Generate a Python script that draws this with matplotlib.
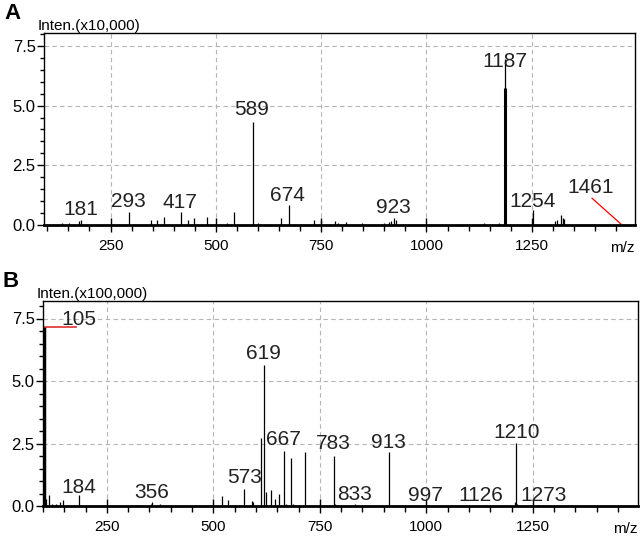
import matplotlib
matplotlib.use('Agg')
import matplotlib.pyplot as plt
from matplotlib.ticker import MultipleLocator, FormatStrFormatter

plt.rcParams['font.family'] = ['Liberation Sans', 'DejaVu Sans']

# Panel A spectrum (intensity x10,000)
mzA = [134, 152, 174, 181, 293, 347, 361, 376, 417, 434, 449, 479, 526, 543,
       589, 601, 654, 674, 733, 749, 782, 790, 810, 848, 898, 910, 916, 923,
       927, 1136, 1172, 1187, 1254, 1305, 1310, 1319, 1323, 1327]
intA = [0.1, 0.1, 0.15, 0.22, 0.56, 0.2, 0.2, 0.33, 0.53, 0.22, 0.28, 0.33, 0.1, 0.56,
        4.32, 0.08, 0.3, 0.85, 0.2, 0.2, 0.15, 0.08, 0.12, 0.1, 0.1, 0.12, 0.15, 0.28,
        0.2, 0.1, 0.1, 6.95, 0.61, 0.15, 0.2, 0.43, 0.3, 0.25]
baseA_mz = 1186
baseA_int = 5.75
labA = ['181', '293', '417', '589', '674', '923', '1187', '1254', '1461']
labA_x = [179, 293, 415, 585, 669, 922, 1186, 1253, 1389]
labA_y = [0.25, 0.58, 0.54, 4.42, 0.83, 0.33, 6.46, 0.6, 1.18]

# Panel B spectrum (intensity x100,000)
mzB = [105, 108, 115, 122, 130, 140, 147, 184, 320, 353, 356, 375, 520, 535, 573,
       590, 593, 613, 619, 624, 636, 644, 653, 667, 670, 683, 688, 714, 783, 786,
       833, 913, 997, 1140, 1208, 1210, 1213, 1262, 1273]
intB = [7.15, 0.3, 0.44, 0.1, 0.1, 0.15, 0.24, 0.44, 0.05, 0.1, 0.17, 0.08, 0.4, 0.24, 0.67,
        0.2, 0.15, 2.73, 5.65, 0.57, 0.63, 0.3, 0.5, 2.22, 0.1, 1.92, 0.1, 2.15, 2.02, 0.1,
        0.08, 2.17, 0.05, 0.05, 0.15, 2.53, 0.1, 0.06, 0.04]
labB = ['184', '356', '573', '619', '667', '783', '833', '913', '997', '1126', '1210', '1273']
labB_x = [185, 355, 573, 617, 664, 782, 831, 911, 998, 1129, 1213, 1276]
labB_y = [0.37, 0.17, 0.77, 5.73, 2.29, 2.13, 0.1, 2.17, 0.05, 0.05, 2.55, 0.05]

W, H = 643, 536
fig = plt.figure(figsize=(W / 100, H / 100), dpi=100)
axA = fig.add_axes([44 / W, 1 - 225 / H, (635 - 44) / W, 192 / H])
axB = fig.add_axes([43 / W, 1 - 506 / H, (638 - 43) / W, 205 / H])


def style(ax, xlim, ylim, ylab, axh):
    ax.set_xlim(*xlim)
    ax.set_ylim(*ylim)
    ax.xaxis.set_major_locator(MultipleLocator(250))
    ax.xaxis.set_minor_locator(MultipleLocator(50))
    ax.yaxis.set_major_locator(MultipleLocator(2.5))
    ax.yaxis.set_minor_locator(MultipleLocator(0.5))
    ax.yaxis.set_major_formatter(FormatStrFormatter('%.1f'))
    ax.grid(True, which='major', ls=(0, (4, 3)), color='#b5b5b5', lw=0.8)
    ax.set_axisbelow(True)
    ax.tick_params(axis='x', which='major', direction='inout', length=10, width=1,
                   labelsize=11, pad=5)
    ax.tick_params(axis='x', which='minor', direction='out', length=4, width=1)
    ax.tick_params(axis='y', which='major', direction='out', length=5, width=1,
                   labelsize=12, pad=1)
    ax.tick_params(axis='y', which='minor', direction='out', length=3, width=1)
    for s in ax.spines.values():
        s.set_linewidth(1)
    ax.spines['bottom'].set_linewidth(2)
    ax.text(-6 / 591, 1.0, ylab, transform=ax.transAxes, ha='left', va='bottom',
            fontsize=11)
    ax.text(1.0, -27 / axh, 'm/z', transform=ax.transAxes, ha='right', va='baseline',
            fontsize=11)


# Panel A
style(axA, (92, 1495), (0, 8.04), 'Inten.(x10,000)', 192)
axA.vlines(mzA, 0, intA, color='black', lw=0.9)
axA.vlines([baseA_mz], 0, [baseA_int], color='black', lw=2.2)
for t, x, y in zip(labA, labA_x, labA_y):
    axA.text(x, y, t, ha='center', va='bottom', fontsize=15, color='#222222')
axA.plot([1393, 1461], [1.12, 0.05], color='red', lw=0.9)

# Panel B
style(axB, (100, 1497), (0, 8.2), 'Inten.(x100,000)', 205)
axB.vlines(mzB, 0, intB, color='black', lw=0.9)
axB.vlines([105], 0, [7.15], color='black', lw=1.6)
for t, x, y in zip(labB, labB_x, labB_y):
    axB.text(x, y, t, ha='center', va='bottom', fontsize=15, color='#222222')
axB.text(143, 7.08, '105', ha='left', va='bottom', fontsize=15, color='#222222')
axB.plot([105, 178], [7.15, 7.15], color='#e03030', lw=1.2)

fig.text(4 / W, 1 - 3 / H, 'A', ha='left', va='top', fontsize=16, fontweight='bold')
fig.text(3 / W, 1 - 271 / H, 'B', ha='left', va='top', fontsize=16, fontweight='bold')

fig.savefig('out.png', dpi=100)
